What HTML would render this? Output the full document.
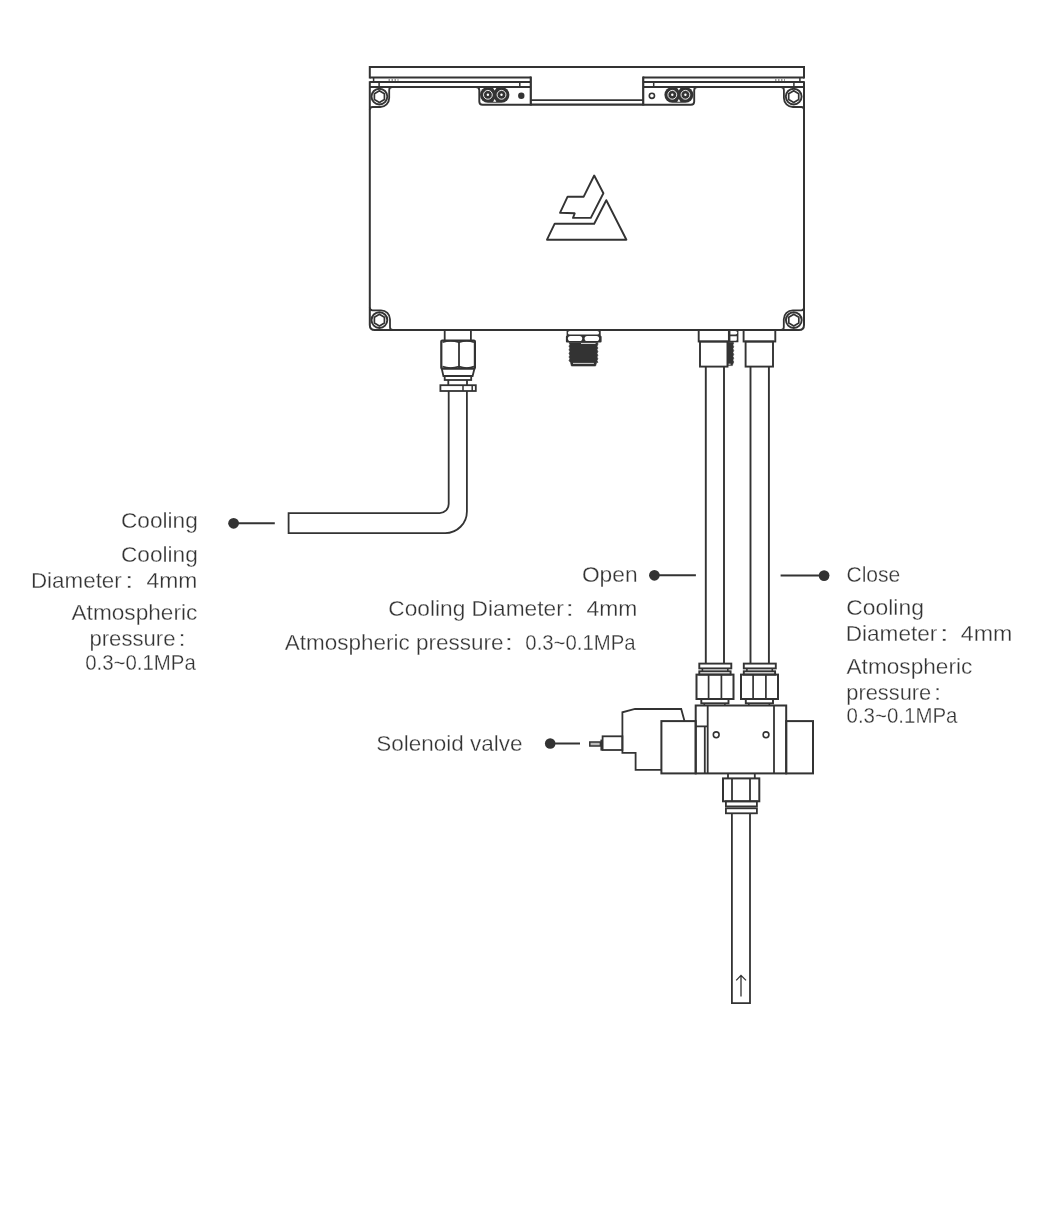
<!DOCTYPE html>
<html><head><meta charset="utf-8"><style>
html,body{margin:0;padding:0;background:#fff;width:1046px;height:1228px;overflow:hidden}
svg{display:block;will-change:transform}
</style></head><body>
<svg width="1046" height="1228" viewBox="0 0 1046 1228">
<rect width="1046" height="1228" fill="#fff"/>
<g fill="none" stroke="#333" stroke-linejoin="miter" stroke-linecap="butt">
<path d="M369.8,81.3 V325 Q369.8,330 374.8,330 H799 Q804,330 804,325 V81.3 M369.8,78.4 V67 H804 V78.4" stroke-width="2"/>
<path d="M369.8,77.5 H531 M643,77.5 H804" stroke-width="2"/>
<path d="M369.8,82.0 H531 M643,82.0 H804" stroke-width="1.9"/>
<path d="M369.8,87.0 H531 M643,87.0 H804" stroke-width="2"/>
<path d="M530.8,76.6 V105.6 M643.2,76.6 V105.6" stroke-width="2.2"/>
<path d="M531,100.2 H643" stroke-width="1.8"/>
<path d="M531,104.6 H643" stroke-width="2.2"/>
<path d="M476,87 Q479.3,87 479.3,90.3 V101.5 Q479.3,104.8 482.6,104.8 H531" stroke-width="1.9"/>
<path d="M643,104.8 H690.9 Q694.2,104.8 694.2,101.5 V90.3 Q694.2,87 697.5,87" stroke-width="1.9"/>
<path d="M373.6,77.5 V82 M379.1,82 V87 M519.8,82 V87 M653.7,82 V87 M799.9,77.5 V82 M793.9,82 V87" stroke-width="1.5"/>
<path d="M388.5,79.8 H398.5 M775,79.8 H785" stroke-width="2.2" stroke="#999" stroke-dasharray="1.5,1.5"/>
<rect x="480.0" y="86.89999999999999" width="29.400000000000023" height="15.8" rx="7.9" fill="#333" stroke="none"/><path d="M493.09999999999997,87.89999999999999 L496.3,87.89999999999999 L494.7,90.6 Z M493.09999999999997,101.7 L496.3,101.7 L494.7,99.0 Z" fill="#fff" stroke="none"/><circle cx="487.9" cy="94.8" r="4.4" stroke="#fff" stroke-width="0.9"/><circle cx="487.9" cy="94.8" r="1.2" fill="#fff" stroke="none"/><circle cx="501.5" cy="94.8" r="4.4" stroke="#fff" stroke-width="0.9"/><circle cx="501.5" cy="94.8" r="1.2" fill="#fff" stroke="none"/>
<rect x="664.4" y="86.89999999999999" width="28.900000000000023" height="15.8" rx="7.9" fill="#333" stroke="none"/><path d="M677.2499999999999,87.89999999999999 L680.4499999999999,87.89999999999999 L678.8499999999999,90.6 Z M677.2499999999999,101.7 L680.4499999999999,101.7 L678.8499999999999,99.0 Z" fill="#fff" stroke="none"/><circle cx="672.3" cy="94.8" r="4.4" stroke="#fff" stroke-width="0.9"/><circle cx="672.3" cy="94.8" r="1.2" fill="#fff" stroke="none"/><circle cx="685.4" cy="94.8" r="4.4" stroke="#fff" stroke-width="0.9"/><circle cx="685.4" cy="94.8" r="1.2" fill="#fff" stroke="none"/>
<circle cx="521.3" cy="95.8" r="3.2" fill="#333" stroke="none"/>
<circle cx="651.9" cy="95.8" r="2.6" stroke-width="1.6"/>
<path d="M392.2,87 Q389.2,87 389.2,90 V98 A9,9 0 0 1 380.2,107 H372.5 Q369.8,107 369.8,109.7" stroke-width="1.8"/>
<path d="M780.9,87 Q783.9,87 783.9,90 V98 A9,9 0 0 0 792.9,107 H801.3 Q804,107 804,109.7" stroke-width="1.8"/>
<path d="M369.8,307.6 Q369.8,310.3 372.5,310.3 H381 A9,9 0 0 1 390,319.3 V327.3 Q390,330 392.7,330" stroke-width="1.8"/>
<path d="M804,307.6 Q804,310.3 801.3,310.3 H792.8 A9,9 0 0 0 783.8,319.3 V327.3 Q783.8,330 781.1,330" stroke-width="1.8"/>
<circle cx="379.4" cy="96.6" r="7.9" stroke-width="1.9"/><polygon points="379.40,90.80 384.42,93.70 384.42,99.50 379.40,102.40 374.38,99.50 374.38,93.70" stroke-width="1.7"/>
<circle cx="793.7" cy="96.6" r="7.9" stroke-width="1.9"/><polygon points="793.70,90.80 798.72,93.70 798.72,99.50 793.70,102.40 788.68,99.50 788.68,93.70" stroke-width="1.7"/>
<circle cx="379.4" cy="320.1" r="7.9" stroke-width="1.9"/><polygon points="379.40,314.30 384.42,317.20 384.42,323.00 379.40,325.90 374.38,323.00 374.38,317.20" stroke-width="1.7"/>
<circle cx="793.8" cy="320.1" r="7.9" stroke-width="1.9"/><polygon points="793.80,314.30 798.82,317.20 798.82,323.00 793.80,325.90 788.78,323.00 788.78,317.20" stroke-width="1.7"/>
<path d="M594.2,175.5 L603.4,193.3 L590.8,217.9 L573,217.9 L574.7,213.3 L560,212.8 L567.6,196.7 L583.7,196.7 Z" stroke-width="1.9" stroke-linejoin="round"/>
<path d="M606.3,200.2 L626.4,239.7 L547,239.7 L554.7,223.7 L594.2,223.7 Z" stroke-width="1.9" stroke-linejoin="round"/>
<path d="M444.7,330 V340 M470.9,330 V340" stroke-width="1.8"/>
<rect x="441.3" y="340.5" width="33.6" height="28.2" rx="1" stroke-width="2.2"/>
<path d="M442.5,342.3 Q450.5,339.5 459,342.3 Q467,339.5 474,342.3 M442.5,366.6 Q450.5,369.6 459,366.6 Q467,369.6 474,366.6" stroke-width="1.6"/>
<path d="M459,341.5 V368" stroke-width="1.8"/>
<path d="M441.8,368.7 L443.4,376 H472.6 L474.4,368.7" stroke-width="1.8"/>
<rect x="444.7" y="376" width="26.5" height="4" stroke-width="1.8"/>
<path d="M448.3,380 V385.2 M467,380 V385.2" stroke-width="1.8"/>
<rect x="440.4" y="385.2" width="35.4" height="5.8" stroke-width="1.8"/>
<path d="M463,385.2 V391 M472.2,385.2 V391" stroke-width="1.5"/>
<path d="M448.7,391 V504.1 A9,9 0 0 1 439.7,513.1 H288.6 V533.1 H445.2 A21.7,21.7 0 0 0 466.9,511.4 V391" stroke-width="1.8"/>
<circle cx="233.6" cy="523.3" r="5.4" fill="#333" stroke="none"/>
<path d="M238,523.3 H274.8" stroke-width="2"/>
<path d="M566.6,330 H600.7 V335.5 Q601.8,336 601.6,337 V341.5 Q601.6,342.6 600.5,342.6 H566.9 Q565.9,342.6 565.9,341.5 V337 Q565.8,336 566.6,335.5 Z" fill="#333" stroke="none"/>
<rect x="567.9" y="330.9" width="31.2" height="3.7" rx="1.85" fill="#fff" stroke="none"/>
<rect x="567.9" y="335.9" width="14.3" height="5.1" rx="2.55" fill="#fff" stroke="none"/>
<rect x="584.6" y="335.9" width="14.5" height="5.1" rx="2.55" fill="#fff" stroke="none"/>
<path d="M569.6,342.6 L569.0,342.6 L569.9,344.4 L569.0,346.2 L569.9,348.0 L569.0,349.8 L569.9,351.6 L569.0,353.4 L569.9,355.2 L569.0,357.0 L569.9,358.8 L569.0,360.6 L570.5,362.6 L571.4,366 H595.6 L596.6,362.6 L597.9,362.4 L597.0,360.6 L597.9,358.8 L597.0,357.0 L597.9,355.2 L597.0,353.4 L597.9,351.6 L597.0,349.8 L597.9,348.0 L597.0,346.2 L597.9,344.4 L597.8,342.6 Z" fill="#333" stroke="#333" stroke-width="0.6"/>
<path d="M581,343.5 H595.6 M573,363.4 H593.9" stroke="#fff" stroke-width="0.8"/>
<rect x="698.7" y="330" width="30.2" height="11.5" stroke-width="1.9"/>
<rect x="700" y="341.5" width="27.5" height="25.1" stroke-width="1.9"/>
<path d="M728.6,330 H737.6 L738.4,331.5 V342.3 H728.6 Z" fill="#333" stroke="none"/>
<path d="M730.4,331 H735.4 Q737.3,331 737.3,332.8 Q737.3,334.6 735.4,334.6 H730.4 Z M730.4,336.3 H736.8 V339.8 Q736.8,340.8 735.8,340.8 H730.4 Z" fill="#fff" stroke="none"/>
<path d="M727.4,342.3 H733.2 L733.8,343.0 L732.9,344.9 L733.8,346.8 L732.9,348.7 L733.8,350.6 L732.9,352.5 L733.8,354.4 L732.9,356.3 L733.8,358.2 L732.9,360.1 L733.8,362.0 L732.9,363.9 L732.4,365.6 H727.4 Z" fill="#333" stroke="#333" stroke-width="0.5"/>
<path d="M728.6,364.2 H730.6" stroke="#fff" stroke-width="0.9"/>
<rect x="743.6" y="330" width="31.7" height="11.5" stroke-width="1.9"/>
<rect x="745.6" y="341.5" width="27.4" height="25.1" stroke-width="1.9"/>
<path d="M705.8,366.6 V663.9 M724,366.6 V663.9" stroke-width="1.9"/>
<path d="M750.5,366.6 V663.9 M768.9,366.6 V663.9" stroke-width="1.9"/>
<circle cx="654.4" cy="575.3" r="5.35" fill="#333" stroke="none"/>
<path d="M658,575.3 H695.9" stroke-width="2"/>
<circle cx="824.1" cy="575.6" r="5.35" fill="#333" stroke="none"/>
<path d="M780.6,575.6 H820" stroke-width="2"/>
<rect x="699.3" y="663.6" width="32" height="4.8" stroke-width="1.9"/><path d="M702.4,668.4 V671.3 M727.8,668.4 V671.3" stroke-width="1.6"/><rect x="699.3" y="671.3" width="31.3" height="3.3" stroke-width="1.9"/><rect x="696.5" y="674.6" width="37" height="24.4" stroke-width="2"/><path d="M708.6,674.6 V699 M721.4,674.6 V699" stroke-width="1.7"/><rect x="701.3" y="699" width="27.2" height="4.3" stroke-width="1.9"/><path d="M704.3,703.3 V705.4 M724.9,703.3 V705.4" stroke-width="1.6"/>
<rect x="743.8" y="663.6" width="32" height="4.8" stroke-width="1.9"/><path d="M746.9,668.4 V671.3 M772.3,668.4 V671.3" stroke-width="1.6"/><rect x="743.8" y="671.3" width="31.3" height="3.3" stroke-width="1.9"/><rect x="741.0" y="674.6" width="37" height="24.4" stroke-width="2"/><path d="M753.1,674.6 V699 M765.9,674.6 V699" stroke-width="1.7"/><rect x="745.8" y="699" width="27.2" height="4.3" stroke-width="1.9"/><path d="M748.8,703.3 V705.4 M769.4,703.3 V705.4" stroke-width="1.6"/>
<rect x="695.7" y="705.5" width="90.5" height="67.9" stroke-width="2"/>
<path d="M704.8,726.4 V773.4 M707.7,705.5 V773.4 M774,705.5 V773.4 M695.7,726.4 H707.7" stroke-width="1.8"/>
<circle cx="716.2" cy="734.8" r="2.9" stroke-width="1.6"/>
<circle cx="766" cy="734.8" r="2.9" stroke-width="1.6"/>
<rect x="786.2" y="721.1" width="26.8" height="52.3" stroke-width="2"/>
<rect x="661.4" y="721.1" width="34.3" height="52.3" stroke-width="2"/>
<path d="M661.4,769.8 H635.6 V752.8 H622.4 V712.3 L635,709 H681.2 L684.5,721.1" stroke-width="1.8"/>
<rect x="602.6" y="736.3" width="19.8" height="13.7" stroke-width="1.8"/>
<path d="M601.4,739.6 V750.6" stroke-width="2"/>
<rect x="589.8" y="742" width="10.6" height="4" stroke-width="1.5" fill="#bbb"/>
<circle cx="550.2" cy="743.5" r="5.3" fill="#333" stroke="none"/>
<path d="M554,743.5 H580" stroke-width="2"/>
<path d="M728,773.4 V778.4 M754.8,773.4 V778.4" stroke-width="1.8"/>
<rect x="723" y="778.4" width="36.3" height="22.9" stroke-width="2"/>
<path d="M732,778.4 V801.3 M750,778.4 V801.3" stroke-width="1.8"/>
<rect x="725.9" y="801.3" width="31" height="5.1" stroke-width="1.8"/>
<rect x="725.9" y="808.3" width="31" height="5" stroke-width="1.8"/>
<path d="M731.9,813.3 V1003.1 H750 V813.3" stroke-width="1.8"/>
<path d="M741,996.4 V975.8 M736.2,980.4 L741,975.4 L746,980.4" stroke-width="1.3"/>
</g>
<g fill="#333" stroke="#fff" stroke-width="0.3" font-family="Liberation Sans, sans-serif" font-size="22.5px">
<text transform="translate(120.94,528.20) scale(1.0070,1)">Cooling</text>
<text transform="translate(120.94,562.20) scale(1.0070,1)">Cooling</text>
<text transform="translate(30.95,587.80) scale(0.9955,1)">Diameter</text>
<text transform="translate(124.97,587.80) scale(1.3816,1)">:</text>
<text transform="translate(146.44,587.80) scale(1.0189,1)">4mm</text>
<text transform="translate(71.50,620.30) scale(1.0065,1)">Atmospheric</text>
<text transform="translate(89.42,645.60) scale(0.9845,1)">pressure</text>
<text transform="translate(178.50,645.60) scale(1.1378,1)">:</text>
<text transform="translate(85.16,669.80) scale(0.9078,1)">0.3~0.1MPa</text>
<text transform="translate(581.93,582.20) scale(1.0109,1)">Open</text>
<text transform="translate(388.23,615.90) scale(1.0101,1)">Cooling Diameter</text>
<text transform="translate(565.54,615.90) scale(1.3410,1)">:</text>
<text transform="translate(586.44,615.90) scale(1.0189,1)">4mm</text>
<text transform="translate(284.80,649.70) scale(0.9994,1)">Atmospheric pressure</text>
<text transform="translate(504.47,649.70) scale(1.3816,1)">:</text>
<text transform="translate(525.36,649.70) scale(0.9036,1)">0.3~0.1MPa</text>
<text transform="translate(846.41,581.80) scale(0.9378,1)">Close</text>
<text transform="translate(846.33,614.90) scale(1.0165,1)">Cooling</text>
<text transform="translate(845.63,640.80) scale(1.0055,1)">Diameter</text>
<text transform="translate(939.63,640.80) scale(1.4629,1)">:</text>
<text transform="translate(960.84,640.80) scale(1.0313,1)">4mm</text>
<text transform="translate(846.50,673.70) scale(1.0065,1)">Atmospheric</text>
<text transform="translate(846.23,699.50) scale(0.9716,1)">pressure</text>
<text transform="translate(933.86,699.50) scale(1.2190,1)">:</text>
<text transform="translate(846.56,723.40) scale(0.9094,1)">0.3~0.1MPa</text>
<text transform="translate(376.20,751.00) scale(0.9998,1)">Solenoid valve</text>
</g>
</svg>
</body></html>
